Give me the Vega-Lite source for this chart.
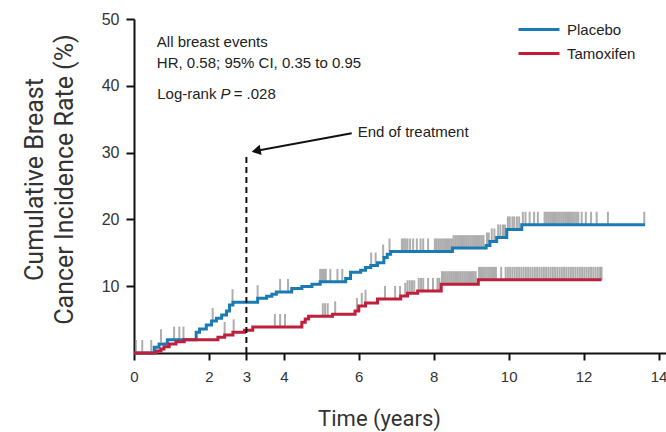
{
  "$schema": "https://vega.github.io/schema/vega-lite/v6.json",
  "width": 532,
  "height": 334,
  "autosize": {"type": "none"},
  "padding": {"left": 134, "top": 19, "right": 0, "bottom": 79},
  "background": "white",
  "config": {
    "view": {"stroke": null},
    "font": "Liberation Sans",
    "axis": {
      "grid": false,
      "domainColor": "#111",
      "domainWidth": 2,
      "tickColor": "#111",
      "tickWidth": 2,
      "labelFont": "Liberation Sans",
      "labelColor": "#333",
      "titleColor": "#333",
      "titleFontWeight": "normal"
    }
  },
  "datasets": {
    "curves": [
      {"g": "Placebo", "t": 0, "v": 0},
      {"g": "Placebo", "t": 0.54, "v": 0.85},
      {"g": "Placebo", "t": 0.67, "v": 1.35},
      {"g": "Placebo", "t": 0.89, "v": 2.0},
      {"g": "Placebo", "t": 1.66, "v": 3.1},
      {"g": "Placebo", "t": 1.75, "v": 3.6},
      {"g": "Placebo", "t": 1.93, "v": 4.2},
      {"g": "Placebo", "t": 2.07, "v": 4.8},
      {"g": "Placebo", "t": 2.2, "v": 5.2},
      {"g": "Placebo", "t": 2.34, "v": 5.7},
      {"g": "Placebo", "t": 2.47, "v": 6.3},
      {"g": "Placebo", "t": 2.55, "v": 7.2},
      {"g": "Placebo", "t": 2.64, "v": 7.6},
      {"g": "Placebo", "t": 3.3, "v": 8.2},
      {"g": "Placebo", "t": 3.54, "v": 8.5},
      {"g": "Placebo", "t": 3.68, "v": 8.8},
      {"g": "Placebo", "t": 3.8, "v": 9.15},
      {"g": "Placebo", "t": 4.21, "v": 9.65},
      {"g": "Placebo", "t": 4.48, "v": 9.95},
      {"g": "Placebo", "t": 4.75, "v": 10.3},
      {"g": "Placebo", "t": 4.97, "v": 10.65},
      {"g": "Placebo", "t": 5.65, "v": 11.15},
      {"g": "Placebo", "t": 5.78, "v": 12.1},
      {"g": "Placebo", "t": 6.05, "v": 12.4},
      {"g": "Placebo", "t": 6.18, "v": 12.8},
      {"g": "Placebo", "t": 6.32, "v": 13.1},
      {"g": "Placebo", "t": 6.5, "v": 13.5},
      {"g": "Placebo", "t": 6.67, "v": 14.3},
      {"g": "Placebo", "t": 6.76, "v": 14.8},
      {"g": "Placebo", "t": 6.85, "v": 15.2},
      {"g": "Placebo", "t": 8.5, "v": 15.7},
      {"g": "Placebo", "t": 9.4, "v": 16.1},
      {"g": "Placebo", "t": 9.5, "v": 16.7},
      {"g": "Placebo", "t": 9.68, "v": 17.3},
      {"g": "Placebo", "t": 9.95, "v": 18.5},
      {"g": "Placebo", "t": 10.35, "v": 19.2},
      {"g": "Placebo", "t": 13.64, "v": 19.2},
      {"g": "Tamoxifen", "t": 0, "v": 0},
      {"g": "Tamoxifen", "t": 0.6, "v": 0.3},
      {"g": "Tamoxifen", "t": 0.72, "v": 0.6},
      {"g": "Tamoxifen", "t": 0.8, "v": 0.95},
      {"g": "Tamoxifen", "t": 0.94, "v": 1.35},
      {"g": "Tamoxifen", "t": 1.12, "v": 1.7},
      {"g": "Tamoxifen", "t": 1.34, "v": 2.0},
      {"g": "Tamoxifen", "t": 2.24, "v": 2.35},
      {"g": "Tamoxifen", "t": 2.42, "v": 2.7},
      {"g": "Tamoxifen", "t": 2.64, "v": 3.1},
      {"g": "Tamoxifen", "t": 2.95, "v": 3.4},
      {"g": "Tamoxifen", "t": 3.17, "v": 3.9},
      {"g": "Tamoxifen", "t": 4.48, "v": 4.6},
      {"g": "Tamoxifen", "t": 4.57, "v": 5.1},
      {"g": "Tamoxifen", "t": 4.66, "v": 5.5},
      {"g": "Tamoxifen", "t": 5.3, "v": 5.8},
      {"g": "Tamoxifen", "t": 5.9, "v": 6.3},
      {"g": "Tamoxifen", "t": 6.0, "v": 7.05},
      {"g": "Tamoxifen", "t": 6.18, "v": 7.5},
      {"g": "Tamoxifen", "t": 6.5, "v": 8.1},
      {"g": "Tamoxifen", "t": 7.12, "v": 8.55},
      {"g": "Tamoxifen", "t": 7.3, "v": 8.95},
      {"g": "Tamoxifen", "t": 7.57, "v": 9.3},
      {"g": "Tamoxifen", "t": 8.2, "v": 10.3},
      {"g": "Tamoxifen", "t": 9.19, "v": 10.95},
      {"g": "Tamoxifen", "t": 12.48, "v": 10.95}
    ],
    "censors": [
      {"t": 0.05, "v": 0}, {"t": 0.22, "v": 0}, {"t": 0.46, "v": 0},
      {"t": 0.72, "v": 1.6}, {"t": 1.07, "v": 2.0}, {"t": 1.21, "v": 2.0}, {"t": 1.32, "v": 2.0},
      {"t": 2.1, "v": 4.8}, {"t": 2.63, "v": 7.6}, {"t": 3.3, "v": 8.2}, {"t": 3.9, "v": 9.15}, {"t": 4.11, "v": 9.15},
      {"t": 4.97, "v": 10.65}, {"t": 5.02, "v": 10.65}, {"t": 5.07, "v": 10.65}, {"t": 5.12, "v": 10.65},
      {"t": 5.24, "v": 10.65}, {"t": 5.43, "v": 10.65}, {"t": 5.56, "v": 10.65},
      {"t": 6.33, "v": 13.1}, {"t": 6.45, "v": 13.1}, {"t": 6.65, "v": 14.3}, {"t": 6.82, "v": 15.2},
      {"t": 7.15, "v": 15.2}, {"t": 7.2, "v": 15.2}, {"t": 7.25, "v": 15.2}, {"t": 7.3, "v": 15.2}, {"t": 7.37, "v": 15.2},
      {"t": 7.45, "v": 15.2}, {"t": 7.55, "v": 15.2}, {"t": 7.65, "v": 15.2}, {"t": 7.72, "v": 15.2}, {"t": 7.85, "v": 15.2},
      {"t": 8.03, "v": 15.2}, {"t": 8.08, "v": 15.2}, {"t": 8.13, "v": 15.2}, {"t": 8.18, "v": 15.2}, {"t": 8.23, "v": 15.2},
      {"t": 8.28, "v": 15.2}, {"t": 8.33, "v": 15.2}, {"t": 8.38, "v": 15.2}, {"t": 8.43, "v": 15.2}, {"t": 8.48, "v": 15.2},
      {"t": 8.53, "v": 15.7}, {"t": 8.58, "v": 15.7}, {"t": 8.63, "v": 15.7}, {"t": 8.68, "v": 15.7}, {"t": 8.73, "v": 15.7},
      {"t": 8.78, "v": 15.7}, {"t": 8.83, "v": 15.7}, {"t": 8.88, "v": 15.7}, {"t": 8.93, "v": 15.7}, {"t": 8.98, "v": 15.7},
      {"t": 9.03, "v": 15.7}, {"t": 9.08, "v": 15.7}, {"t": 9.13, "v": 15.7}, {"t": 9.18, "v": 15.7}, {"t": 9.23, "v": 15.7},
      {"t": 9.28, "v": 15.7}, {"t": 9.33, "v": 15.7},
      {"t": 9.42, "v": 16.1}, {"t": 9.47, "v": 16.1}, {"t": 9.55, "v": 16.7}, {"t": 9.62, "v": 16.7},
      {"t": 9.72, "v": 17.3}, {"t": 9.78, "v": 17.3}, {"t": 9.85, "v": 17.3}, {"t": 9.9, "v": 17.3},
      {"t": 9.98, "v": 18.5}, {"t": 10.03, "v": 18.5}, {"t": 10.1, "v": 18.5}, {"t": 10.15, "v": 18.5}, {"t": 10.22, "v": 18.5}, {"t": 10.28, "v": 18.5},
      {"t": 10.38, "v": 19.2}, {"t": 10.45, "v": 19.2}, {"t": 10.56, "v": 19.2}, {"t": 10.68, "v": 19.2}, {"t": 10.78, "v": 19.2},
      {"t": 10.96, "v": 19.2}, {"t": 11.01, "v": 19.2}, {"t": 11.06, "v": 19.2}, {"t": 11.11, "v": 19.2}, {"t": 11.16, "v": 19.2},
      {"t": 11.21, "v": 19.2}, {"t": 11.26, "v": 19.2}, {"t": 11.31, "v": 19.2}, {"t": 11.36, "v": 19.2}, {"t": 11.41, "v": 19.2},
      {"t": 11.46, "v": 19.2}, {"t": 11.51, "v": 19.2}, {"t": 11.56, "v": 19.2}, {"t": 11.61, "v": 19.2}, {"t": 11.66, "v": 19.2},
      {"t": 11.71, "v": 19.2}, {"t": 11.76, "v": 19.2}, {"t": 11.81, "v": 19.2}, {"t": 11.86, "v": 19.2},
      {"t": 11.95, "v": 19.2}, {"t": 12.06, "v": 19.2}, {"t": 12.2, "v": 19.2}, {"t": 12.35, "v": 19.2}, {"t": 12.65, "v": 19.2}, {"t": 13.62, "v": 19.2},
      {"t": 2.42, "v": 2.7}, {"t": 2.66, "v": 3.1}, {"t": 3.76, "v": 3.9}, {"t": 3.9, "v": 3.9}, {"t": 4.03, "v": 3.9},
      {"t": 5.04, "v": 5.5}, {"t": 5.1, "v": 5.5}, {"t": 5.17, "v": 5.5}, {"t": 5.37, "v": 5.8},
      {"t": 5.95, "v": 6.3}, {"t": 6.08, "v": 7.05}, {"t": 6.18, "v": 7.5},
      {"t": 6.7, "v": 8.1}, {"t": 6.97, "v": 8.1}, {"t": 7.1, "v": 8.1},
      {"t": 7.24, "v": 8.55}, {"t": 7.3, "v": 8.95}, {"t": 7.36, "v": 8.95}, {"t": 7.42, "v": 8.95}, {"t": 7.48, "v": 8.95},
      {"t": 7.6, "v": 9.3}, {"t": 7.66, "v": 9.3}, {"t": 7.72, "v": 9.3}, {"t": 7.85, "v": 9.3}, {"t": 7.98, "v": 9.3},
      {"t": 8.1, "v": 9.3}, {"t": 8.15, "v": 9.3},
      {"t": 8.22, "v": 10.3}, {"t": 8.27, "v": 10.3}, {"t": 8.32, "v": 10.3}, {"t": 8.37, "v": 10.3}, {"t": 8.42, "v": 10.3},
      {"t": 8.47, "v": 10.3}, {"t": 8.52, "v": 10.3}, {"t": 8.57, "v": 10.3}, {"t": 8.62, "v": 10.3}, {"t": 8.67, "v": 10.3},
      {"t": 8.72, "v": 10.3}, {"t": 8.77, "v": 10.3}, {"t": 8.82, "v": 10.3}, {"t": 8.87, "v": 10.3}, {"t": 8.92, "v": 10.3},
      {"t": 8.97, "v": 10.3}, {"t": 9.02, "v": 10.3}, {"t": 9.07, "v": 10.3}, {"t": 9.12, "v": 10.3},
      {"t": 9.21, "v": 10.95}, {"t": 9.26, "v": 10.95}, {"t": 9.31, "v": 10.95}, {"t": 9.36, "v": 10.95}, {"t": 9.41, "v": 10.95},
      {"t": 9.46, "v": 10.95}, {"t": 9.51, "v": 10.95}, {"t": 9.56, "v": 10.95}, {"t": 9.61, "v": 10.95}, {"t": 9.66, "v": 10.95},
      {"t": 9.8, "v": 10.95}, {"t": 9.92, "v": 10.95}, {"t": 9.98, "v": 10.95}, {"t": 10.04, "v": 10.95}, {"t": 10.1, "v": 10.95},
      {"t": 10.16, "v": 10.95}, {"t": 10.22, "v": 10.95}, {"t": 10.28, "v": 10.95}, {"t": 10.34, "v": 10.95}, {"t": 10.4, "v": 10.95},
      {"t": 10.46, "v": 10.95}, {"t": 10.52, "v": 10.95}, {"t": 10.58, "v": 10.95}, {"t": 10.64, "v": 10.95}, {"t": 10.7, "v": 10.95},
      {"t": 10.76, "v": 10.95}, {"t": 10.82, "v": 10.95}, {"t": 10.88, "v": 10.95}, {"t": 10.94, "v": 10.95}, {"t": 11.0, "v": 10.95},
      {"t": 11.06, "v": 10.95}, {"t": 11.12, "v": 10.95}, {"t": 11.18, "v": 10.95}, {"t": 11.24, "v": 10.95}, {"t": 11.3, "v": 10.95},
      {"t": 11.36, "v": 10.95}, {"t": 11.42, "v": 10.95}, {"t": 11.48, "v": 10.95}, {"t": 11.54, "v": 10.95}, {"t": 11.6, "v": 10.95},
      {"t": 11.66, "v": 10.95}, {"t": 11.72, "v": 10.95}, {"t": 11.78, "v": 10.95}, {"t": 11.84, "v": 10.95}, {"t": 11.9, "v": 10.95},
      {"t": 11.96, "v": 10.95}, {"t": 12.02, "v": 10.95}, {"t": 12.08, "v": 10.95}, {"t": 12.14, "v": 10.95}, {"t": 12.2, "v": 10.95},
      {"t": 12.26, "v": 10.95}, {"t": 12.32, "v": 10.95}, {"t": 12.38, "v": 10.95}, {"t": 12.44, "v": 10.95}, {"t": 12.48, "v": 10.95}
    ],
    "notes": [
      {"t": 0.61, "v": 46.5, "label": "All breast events", "kind": "normal"},
      {"t": 0.61, "v": 43.4, "label": "HR, 0.58; 95% CI, 0.35 to 0.95", "kind": "normal"},
      {"t": 0.62, "v": 38.7, "label": "Log-rank", "kind": "normal"},
      {"t": 2.31, "v": 38.7, "label": "P", "kind": "italic"},
      {"t": 2.66, "v": 38.7, "label": "= .028", "kind": "normal"},
      {"t": 5.97, "v": 33.1, "label": "End of treatment", "kind": "normal"}
    ],
    "treatmentEnd": [{"t": 3, "v": 0, "v2": 29.7}],
    "arrow": [{"t": 5.81, "v": 32.9, "t2": 3.2, "v2": 30.2}],
    "arrowHead": [{"t": 3.26, "v": 30.27}]
  },
  "layer": [
    {
      "data": {"name": "censors"},
      "mark": {"type": "tick", "orient": "vertical", "size": 13, "thickness": 2, "yOffset": -6.5, "color": "#8c8c8c"},
      "encoding": {
        "x": {
          "field": "t", "type": "quantitative", "title": "Time (years)",
          "scale": {"domain": [0, 14.2], "nice": false, "zero": false},
          "axis": {
            "values": [0, 2, 3, 4, 6, 8, 10, 12, 14],
            "tickSize": 7,
            "labelPadding": 9,
            "labelFontSize": 15,
            "labelFlush": false,
            "titleFont": "Roboto",
            "titleFontSize": 22,
            "titleX": 245,
            "titleY": 72,
            "titleBaseline": "alphabetic",
            "titleAnchor": "middle",
            "titleAlign": "center"
          }
        },
        "y": {
          "field": "v", "type": "quantitative", "title": ["Cumulative Breast", "Cancer Incidence Rate (%)"],
          "scale": {"domain": [0, 50], "nice": false, "zero": false},
          "axis": {
            "values": [10, 20, 30, 40, 50],
            "tickSize": 8,
            "labelPadding": 7,
            "labelFontSize": 16,
            "titleFont": "Roboto",
            "titleFontSize": 25,
            "titleLineHeight": 30,
            "titlePadding": 24,
            "titleY": 160
          }
        }
      }
    },
    {
      "data": {"name": "curves"},
      "mark": {"type": "line", "interpolate": "step-after", "strokeWidth": 3},
      "encoding": {
        "x": {"field": "t", "type": "quantitative", "title": "Time (years)", "scale": {"domain": [0, 14.2], "nice": false, "zero": false}},
        "y": {"field": "v", "type": "quantitative", "title": ["Cumulative Breast", "Cancer Incidence Rate (%)"], "scale": {"domain": [0, 50], "nice": false, "zero": false}},
        "color": {
          "field": "g", "type": "nominal",
          "scale": {"domain": ["Placebo", "Tamoxifen"], "range": ["#1a7bb4", "#bf1f3b"]},
          "legend": {
            "title": null,
            "orient": "none",
            "legendX": 383,
            "legendY": 2,
            "padding": 0,
            "symbolType": "stroke",
            "symbolSize": 1681,
            "symbolStrokeWidth": 3,
            "clipHeight": 17,
            "rowPadding": 7,
            "labelFont": "Liberation Sans",
            "labelFontSize": 15,
            "labelColor": "#222",
            "labelOffset": 6
          }
        }
      }
    },
    {
      "data": {"name": "treatmentEnd"},
      "mark": {"type": "rule", "color": "#111", "strokeWidth": 2, "strokeDash": [6, 4]},
      "encoding": {
        "x": {"field": "t", "type": "quantitative", "title": "Time (years)", "scale": {"domain": [0, 14.2], "nice": false, "zero": false}},
        "y": {"field": "v", "type": "quantitative", "title": ["Cumulative Breast", "Cancer Incidence Rate (%)"], "scale": {"domain": [0, 50], "nice": false, "zero": false}},
        "y2": {"field": "v2"}
      }
    },
    {
      "data": {"name": "arrow"},
      "mark": {"type": "rule", "color": "#111", "strokeWidth": 2},
      "encoding": {
        "x": {"field": "t", "type": "quantitative", "title": "Time (years)", "scale": {"domain": [0, 14.2], "nice": false, "zero": false}},
        "y": {"field": "v", "type": "quantitative", "title": ["Cumulative Breast", "Cancer Incidence Rate (%)"], "scale": {"domain": [0, 50], "nice": false, "zero": false}},
        "x2": {"field": "t2"},
        "y2": {"field": "v2"}
      }
    },
    {
      "data": {"name": "arrowHead"},
      "mark": {"type": "point", "shape": "triangle-left", "filled": true, "color": "#111", "size": 110, "angle": -10.8, "opacity": 1},
      "encoding": {
        "x": {"field": "t", "type": "quantitative", "title": "Time (years)", "scale": {"domain": [0, 14.2], "nice": false, "zero": false}},
        "y": {"field": "v", "type": "quantitative", "title": ["Cumulative Breast", "Cancer Incidence Rate (%)"], "scale": {"domain": [0, 50], "nice": false, "zero": false}}
      }
    },
    {
      "data": {"name": "notes"},
      "transform": [{"filter": "datum.kind == 'normal'"}],
      "mark": {"type": "text", "align": "left", "baseline": "middle", "font": "Liberation Sans", "fontSize": 15, "color": "#222"},
      "encoding": {
        "x": {"field": "t", "type": "quantitative", "title": "Time (years)", "scale": {"domain": [0, 14.2], "nice": false, "zero": false}},
        "y": {"field": "v", "type": "quantitative", "title": ["Cumulative Breast", "Cancer Incidence Rate (%)"], "scale": {"domain": [0, 50], "nice": false, "zero": false}},
        "text": {"field": "label"}
      }
    },
    {
      "data": {"name": "notes"},
      "transform": [{"filter": "datum.kind == 'italic'"}],
      "mark": {"type": "text", "align": "left", "baseline": "middle", "font": "Liberation Sans", "fontSize": 15, "fontStyle": "italic", "color": "#222"},
      "encoding": {
        "x": {"field": "t", "type": "quantitative", "title": "Time (years)", "scale": {"domain": [0, 14.2], "nice": false, "zero": false}},
        "y": {"field": "v", "type": "quantitative", "title": ["Cumulative Breast", "Cancer Incidence Rate (%)"], "scale": {"domain": [0, 50], "nice": false, "zero": false}},
        "text": {"field": "label"}
      }
    }
  ]
}
